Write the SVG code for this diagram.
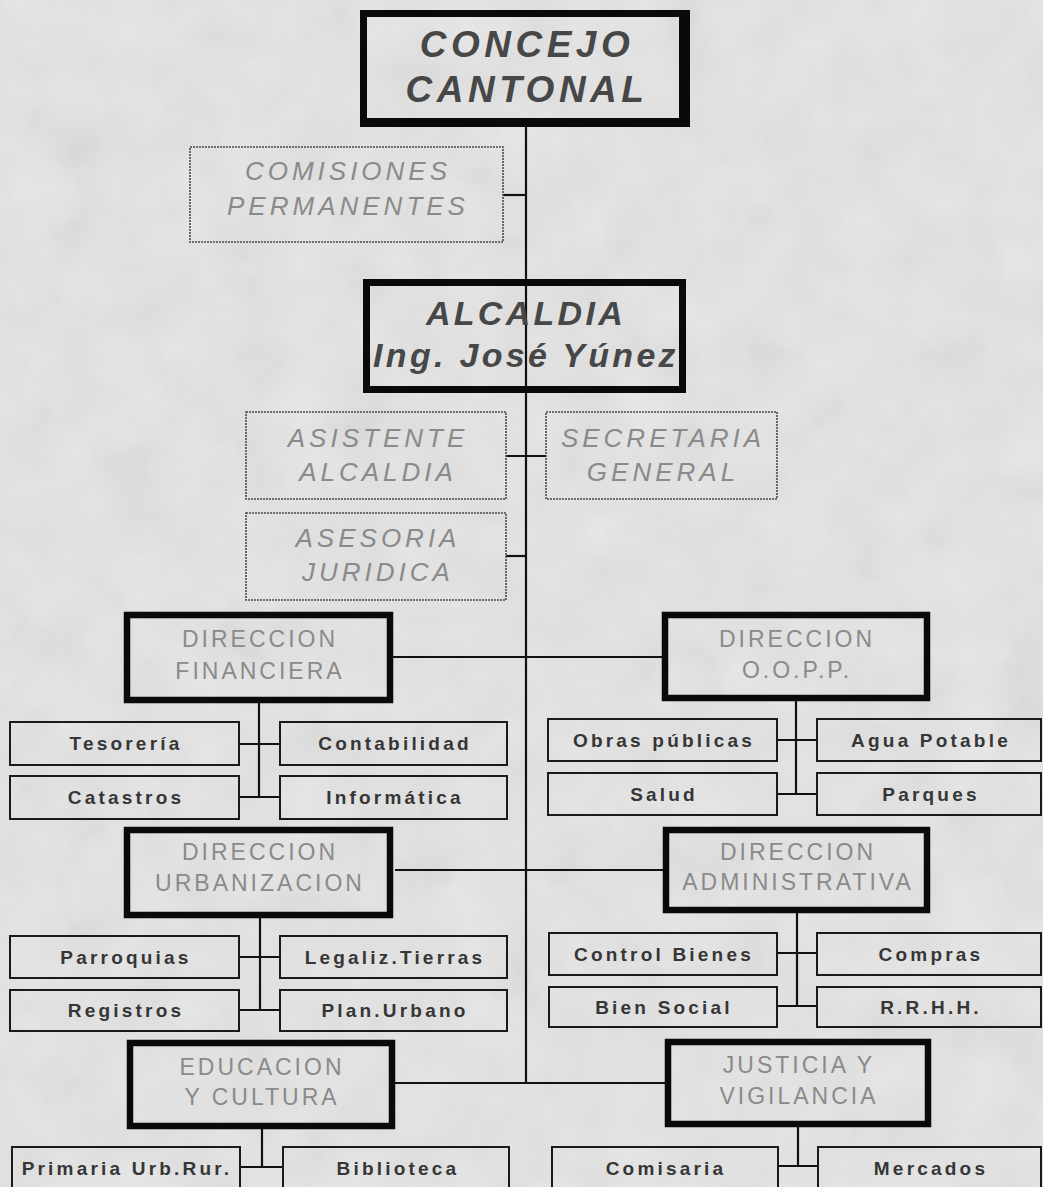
<svg xmlns="http://www.w3.org/2000/svg" width="1043" height="1187" viewBox="0 0 1043 1187">
<defs>
<filter id="paper" x="0" y="0" width="100%" height="100%">
<feTurbulence type="fractalNoise" baseFrequency="0.018" numOctaves="4" seed="7" result="n"/>
<feColorMatrix in="n" type="matrix" values="0.33 0.33 0.33 0 0  0.33 0.33 0.33 0 0  0.33 0.33 0.33 0 0  0 0 0 0 1"/>
</filter>
<style>
text{font-family:"Liberation Sans",Arial,sans-serif;text-anchor:middle}
.big{font-weight:bold;font-style:italic;font-size:37px;fill:#474747;letter-spacing:4.5px}
.alc{font-weight:bold;font-style:italic;font-size:34px;fill:#474747;letter-spacing:3.3px}
.dot{font-style:italic;font-size:26px;fill:#8a8a8a;letter-spacing:4px}
.dir{font-size:23px;fill:#8a8a8a;letter-spacing:3px}
.sub{font-weight:bold;font-size:19px;fill:#363636;letter-spacing:3.2px}
.thick{fill:none;stroke:#0a0a0a;stroke-width:6.5}
.dotted{fill:none;stroke:#4a4a4a;stroke-width:1.6;stroke-dasharray:2 1}
.box{fill:none;stroke:#1a1a1a;stroke-width:2}
.ln{stroke:#111;stroke-width:2.2;fill:none}
</style>
</defs>
<rect x="0" y="0" width="1043" height="1187" fill="#e8e8e8"/>
<rect x="0" y="0" width="1043" height="1187" filter="url(#paper)" opacity="0.15"/>

<g id="connectors">
<line class="ln" x1="526" y1="124" x2="526" y2="1084"/>
<line class="ln" x1="503" y1="195" x2="526" y2="195"/>
<line class="ln" x1="506" y1="456" x2="546" y2="456"/>
<line class="ln" x1="506" y1="556" x2="526" y2="556"/>
<line class="ln" x1="393" y1="657" x2="663" y2="657"/>
<line class="ln" x1="395" y1="870" x2="663" y2="870"/>
<line class="ln" x1="395" y1="1083" x2="665" y2="1083"/>
<path class="ln" d="M259,703 V797 M238,744 H280 M238,797 H280"/>
<path class="ln" d="M796,700 V794 M777,740 H817 M777,794 H817"/>
<path class="ln" d="M260,918 V1010 M239,957 H280 M239,1010 H280"/>
<path class="ln" d="M797,913 V1006 M777,953 H817 M777,1006 H817"/>
<path class="ln" d="M262,1129 V1167 M240,1167 H283"/>
<path class="ln" d="M798,1127 V1166 M778,1166 H818"/>
</g>

<g id="concejo">
<path d="M360,10 H690 V127 H360 Z M367,17 V118 H679 V17 Z" fill="#0a0a0a" fill-rule="evenodd"/>
<text class="big" x="527" y="57">CONCEJO</text>
<text class="big" x="527" y="102">CANTONAL</text>
</g>

<g id="comisiones">
<rect class="dotted" x="190" y="147" width="313" height="95"/>
<text class="dot" x="348" y="180">COMISIONES</text>
<text class="dot" x="348" y="215">PERMANENTES</text>
</g>

<g id="alcaldia">
<path d="M363,279 H686 V393 H363 Z M370,286 V386 H679 V286 Z" fill="#0a0a0a" fill-rule="evenodd"/>
<text class="alc" x="526" y="325">ALCALDIA</text>
<text class="alc" x="526" y="367">Ing. José Yúnez</text>
</g>

<g id="asistente">
<rect class="dotted" x="246" y="412" width="260" height="87"/>
<text class="dot" x="378" y="447">ASISTENTE</text>
<text class="dot" x="378" y="481">ALCALDIA</text>
</g>

<g id="secretaria">
<rect class="dotted" x="546" y="412" width="231" height="87"/>
<text class="dot" x="663" y="447">SECRETARIA</text>
<text class="dot" x="663" y="481">GENERAL</text>
</g>

<g id="asesoria">
<rect class="dotted" x="246" y="513" width="260" height="87"/>
<text class="dot" x="378" y="547">ASESORIA</text>
<text class="dot" x="378" y="581">JURIDICA</text>
</g>

<g id="dir-financiera">
<rect class="thick" x="127" y="615" width="263" height="85"/>
<text class="dir" x="260" y="647">DIRECCION</text>
<text class="dir" x="260" y="679">FINANCIERA</text>
</g>
<g id="tesoreria"><rect class="box" x="10" y="722" width="229" height="43"/><text class="sub" x="126" y="750">Tesorería</text></g>
<g id="contabilidad"><rect class="box" x="280" y="722" width="227" height="43"/><text class="sub" x="395" y="750">Contabilidad</text></g>
<g id="catastros"><rect class="box" x="10" y="776" width="229" height="43"/><text class="sub" x="126" y="804">Catastros</text></g>
<g id="informatica"><rect class="box" x="280" y="776" width="227" height="43"/><text class="sub" x="395" y="804">Informática</text></g>

<g id="dir-oopp">
<rect class="thick" x="665" y="615" width="262" height="83"/>
<text class="dir" x="797" y="647">DIRECCION</text>
<text class="dir" x="797" y="678">O.O.P.P.</text>
</g>
<g id="obras"><rect class="box" x="548" y="719" width="229" height="42"/><text class="sub" x="664" y="747">Obras públicas</text></g>
<g id="agua"><rect class="box" x="817" y="719" width="224" height="42"/><text class="sub" x="931" y="747">Agua Potable</text></g>
<g id="salud"><rect class="box" x="548" y="773" width="229" height="42"/><text class="sub" x="664" y="801">Salud</text></g>
<g id="parques"><rect class="box" x="817" y="773" width="224" height="42"/><text class="sub" x="931" y="801">Parques</text></g>

<g id="dir-urbanizacion">
<rect class="thick" x="127" y="830" width="263" height="85"/>
<text class="dir" x="260" y="860">DIRECCION</text>
<text class="dir" x="260" y="891">URBANIZACION</text>
</g>
<g id="parroquias"><rect class="box" x="10" y="936" width="229" height="42"/><text class="sub" x="126" y="964">Parroquias</text></g>
<g id="legaliz"><rect class="box" x="280" y="936" width="227" height="42"/><text class="sub" x="395" y="964">Legaliz.Tierras</text></g>
<g id="registros"><rect class="box" x="10" y="990" width="229" height="41"/><text class="sub" x="126" y="1017">Registros</text></g>
<g id="plan"><rect class="box" x="280" y="990" width="227" height="41"/><text class="sub" x="395" y="1017">Plan.Urbano</text></g>

<g id="dir-administrativa">
<rect class="thick" x="666" y="830" width="261" height="80"/>
<text class="dir" x="798" y="860">DIRECCION</text>
<text class="dir" x="798" y="890">ADMINISTRATIVA</text>
</g>
<g id="control"><rect class="box" x="549" y="933" width="228" height="42"/><text class="sub" x="664" y="961">Control Bienes</text></g>
<g id="compras"><rect class="box" x="817" y="933" width="224" height="42"/><text class="sub" x="931" y="961">Compras</text></g>
<g id="bien"><rect class="box" x="549" y="987" width="228" height="40"/><text class="sub" x="664" y="1014">Bien Social</text></g>
<g id="rrhh"><rect class="box" x="817" y="987" width="224" height="40"/><text class="sub" x="931" y="1014">R.R.H.H.</text></g>

<g id="educacion">
<rect class="thick" x="130" y="1043" width="262" height="83"/>
<text class="dir" x="262" y="1075">EDUCACION</text>
<text class="dir" x="262" y="1105">Y CULTURA</text>
</g>
<g id="primaria"><rect class="box" x="12" y="1147" width="228" height="50"/><text class="sub" x="127" y="1175">Primaria Urb.Rur.</text></g>
<g id="biblioteca"><rect class="box" x="283" y="1147" width="226" height="50"/><text class="sub" x="398" y="1175">Biblioteca</text></g>

<g id="justicia">
<rect class="thick" x="668" y="1042" width="260" height="82"/>
<text class="dir" x="799" y="1073">JUSTICIA Y</text>
<text class="dir" x="799" y="1104">VIGILANCIA</text>
</g>
<g id="comisaria"><rect class="box" x="552" y="1147" width="226" height="50"/><text class="sub" x="666" y="1175">Comisaria</text></g>
<g id="mercados"><rect class="box" x="818" y="1147" width="223" height="50"/><text class="sub" x="931" y="1175">Mercados</text></g>
</svg>
